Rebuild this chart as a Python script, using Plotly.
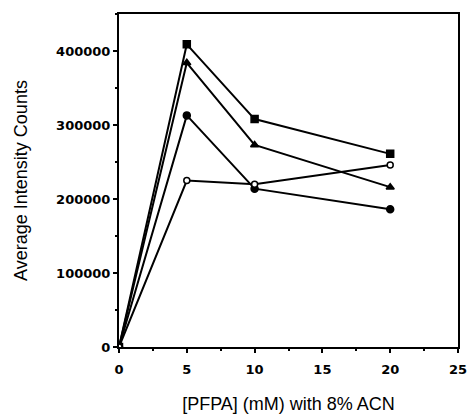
import plotly.graph_objects as go

x_vals = [0, 5, 10, 20]
squares = [0, 409000, 308000, 261000]
triangles = [0, 384000, 273000, 216000]
filled_circles = [0, 313000, 214000, 186000]
open_circles = [0, 225000, 220000, 246000]

series = [
    ("squares", squares, "square", "black", 7),
    ("triangles", triangles, "triangle-up", "black", 7),
    ("filled circles", filled_circles, "circle", "black", 7),
    ("open circles", open_circles, "circle", "white", 6),
]

fig = go.Figure()
for name, ys, sym, fill, sz in series:
    fig.add_trace(go.Scatter(
        x=x_vals, y=ys, mode="lines+markers", name=name,
        line=dict(color="black", width=2),
        marker=dict(symbol=sym, size=sz, color=fill,
                    line=dict(color="black", width=1.5)),
    ))

tick_font = dict(size=13, family="DejaVu Sans", weight="bold")
fig.update_layout(
    width=467, height=415,
    margin=dict(l=119, r=9, t=14, b=68),
    paper_bgcolor="white", plot_bgcolor="white",
    showlegend=False,
    font=dict(family="Liberation Sans, Arial, sans-serif", color="black"),
    xaxis=dict(
        range=[0, 25], tickvals=[0, 5, 10, 15, 20, 25],
        ticks="outside", ticklen=4, tickwidth=1.5, tickcolor="black",
        minor=dict(dtick=2.5, ticks="outside", ticklen=2, tickcolor="black"),
        showline=True, linecolor="black", linewidth=2, mirror=True,
        showgrid=False, zeroline=False, automargin=False,
        tickfont=tick_font, ticklabelstandoff=5, ticklabeloverflow="allow",
        title=dict(text="[PFPA] (mM) with 8% ACN", font=dict(size=18), standoff=22),
    ),
    yaxis=dict(
        range=[0, 450000], tickvals=[0, 100000, 200000, 300000, 400000],
        ticktext=["0", "100000", "200000", "300000", "400000"],
        ticks="outside", ticklen=4, tickwidth=1.5, tickcolor="black",
        minor=dict(dtick=50000, ticks="outside", ticklen=2, tickcolor="black"),
        showline=True, linecolor="black", linewidth=2, mirror=True,
        showgrid=False, zeroline=False, automargin=False,
        tickfont=tick_font, ticklabeloverflow="allow",
        title=dict(text="Average Intensity Counts", font=dict(size=18), standoff=24),
    ),
)

fig.write_html("out.html")
